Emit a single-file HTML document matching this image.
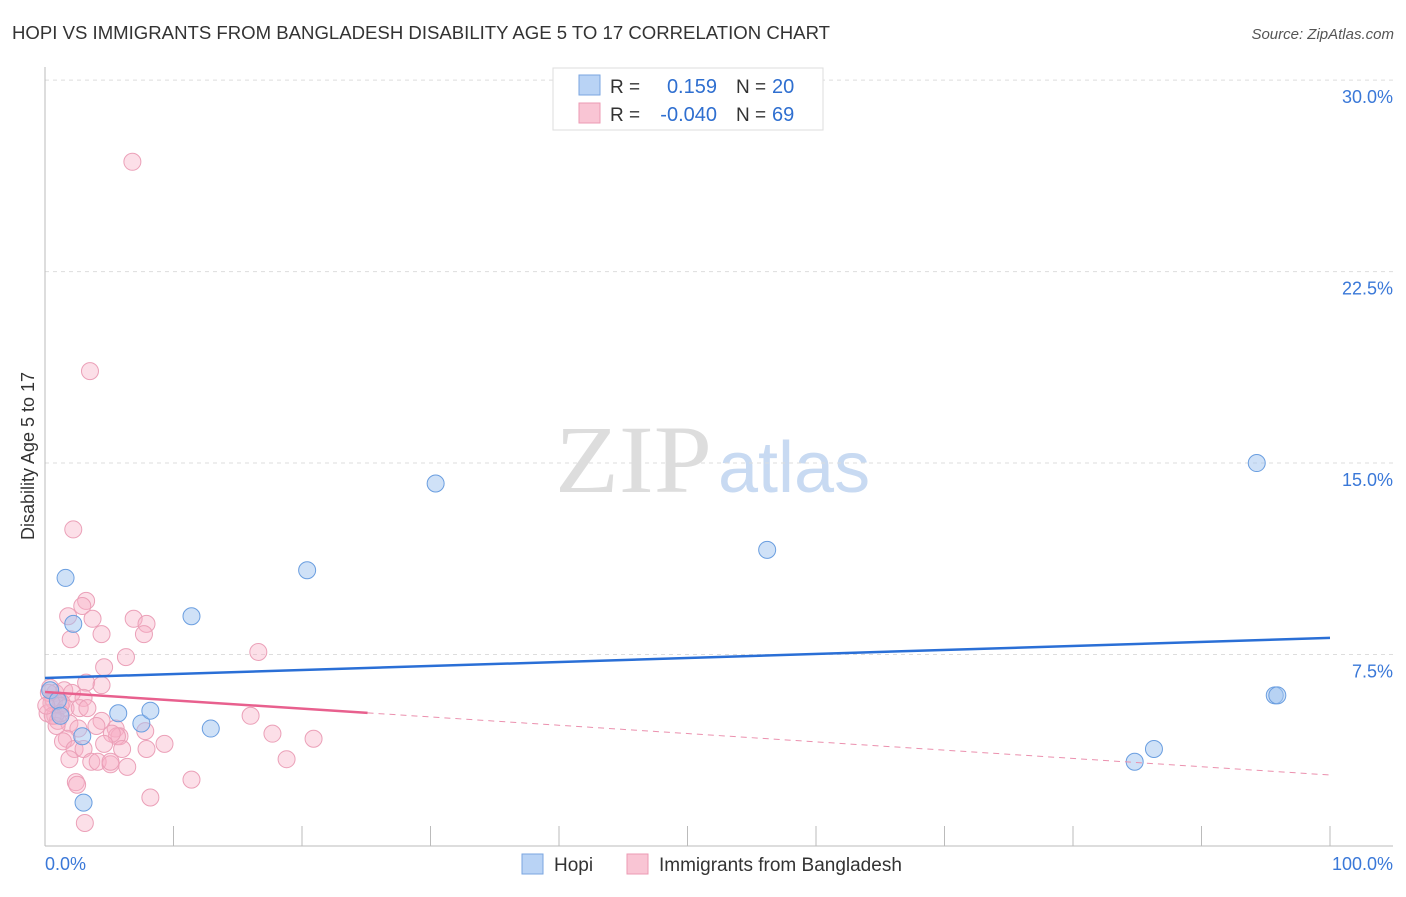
<!DOCTYPE html>
<html><head><meta charset="utf-8"><style>
body{margin:0;background:#fff;font-family:"Liberation Sans",sans-serif}
</style></head><body>
<svg id="c" width="1406" height="892" xmlns="http://www.w3.org/2000/svg" font-family="Liberation Sans, sans-serif">
<text x="12" y="39" font-size="18" fill="#333" textLength="818" lengthAdjust="spacingAndGlyphs">HOPI VS IMMIGRANTS FROM BANGLADESH DISABILITY AGE 5 TO 17 CORRELATION CHART</text>
<text x="1394" y="39" font-size="15" fill="#555" font-style="italic" text-anchor="end">Source: ZipAtlas.com</text>
<text x="34" y="456" font-size="18" fill="#333" text-anchor="middle" transform="rotate(-90 34 456)">Disability Age 5 to 17</text>
<text x="555" y="492" font-size="96" fill="#ddd" font-family="Liberation Serif, serif" textLength="157" lengthAdjust="spacingAndGlyphs">ZIP</text>
<text x="718" y="492" font-size="72" fill="#c8daf2">atlas</text>
<g id="grid"></g><g id="axes"></g><g id="pts"></g><g id="lines"></g>
<g>
<rect x="553" y="68" width="270" height="62" fill="#fff" stroke="#ddd"/>
<rect x="579" y="75" width="21" height="20" fill="#b9d3f5" stroke="#7aa6e0"/>
<rect x="579" y="103" width="21" height="20" fill="#f9c5d4" stroke="#ec9ab3"/>
<text x="610" y="93" font-size="19" fill="#333">R =</text><text x="717" y="93" font-size="20" fill="#2f6fd0" text-anchor="end">0.159</text>
<text x="736" y="93" font-size="19" fill="#333">N =</text><text x="772" y="93" font-size="20" fill="#2f6fd0">20</text>
<text x="610" y="121" font-size="19" fill="#333">R =</text><text x="717" y="121" font-size="20" fill="#2f6fd0" text-anchor="end">-0.040</text>
<text x="736" y="121" font-size="19" fill="#333">N =</text><text x="772" y="121" font-size="20" fill="#2f6fd0">69</text>
</g>
<g>
<rect x="522" y="854" width="21" height="20" fill="#b9d3f5" stroke="#7aa6e0"/><text x="554" y="871" font-size="19" fill="#333">Hopi</text>
<rect x="627" y="854" width="21" height="20" fill="#f9c5d4" stroke="#ec9ab3"/><text x="659" y="871" font-size="19" fill="#333">Immigrants from Bangladesh</text>
</g>
</svg>
<script>
const hopiX=[1.6,2.2,3.0,2.9,5.7,7.5,8.2,11.4,12.9,20.4,30.4,56.2,94.3,95.7,95.9,84.8,86.3,0.4,1.0,1.2];
const hopiY=[10.5,8.7,1.7,4.3,5.2,4.8,5.3,9.0,4.6,10.8,14.2,11.6,15.0,5.9,5.9,3.3,3.8,6.1,5.7,5.1];
const bangX=[6.8,3.5,2.2,3.2,2.9,1.8,3.7,6.9,7.9,2.0,4.4,7.7,6.3,16.6,4.6,3.2,4.4,0.4,0.8,1.5,2.1,3.0,0.7,1.3,0.2,0.8,1.2,0.5,1.6,2.7,3.3,1.0,1.9,0.9,4.4,4.0,2.6,5.5,5.8,7.8,5.6,1.7,1.4,2.3,3.0,6.0,7.9,9.3,16.0,17.7,20.9,18.8,1.9,3.6,4.1,5.1,6.4,2.4,2.5,11.4,8.2,3.1,5.1,5.2,4.6,0.3,0.6,0.1,1.2];
const bangY=[26.8,18.6,12.4,9.6,9.4,9.0,8.9,8.9,8.7,8.1,8.3,8.3,7.4,7.6,7.0,6.4,6.3,6.2,6.0,6.1,6.0,5.8,5.7,5.6,5.2,5.1,5.5,5.6,5.4,5.4,5.4,4.9,4.8,4.7,4.9,4.7,4.6,4.6,4.3,4.5,4.3,4.2,4.1,3.8,3.8,3.8,3.8,4.0,5.1,4.4,4.2,3.4,3.4,3.3,3.3,3.2,3.1,2.5,2.4,2.6,1.9,0.9,3.3,4.4,4.0,6.0,5.1,5.5,5.2];
const yTicks=[7.5,15,22.5,30];
const yTickLabels=["7.5%","15.0%","22.5%","30.0%"];
const hopiTrend=[6.58,8.15];
const bangTrend=[6.03,2.78];
const bangSolidEnd=25.1;
const NS="http://www.w3.org/2000/svg";
const sx=v=>45+v*12.85, sy=v=>846-v*25.53;
function mk(tag,attrs,parent){const e=document.createElementNS(NS,tag);for(const k in attrs)e.setAttribute(k,attrs[k]);document.getElementById(parent).appendChild(e);return e;}
yTicks.forEach((t,i)=>{
 const g=mk('line',{x1:45,x2:1393,y1:sy(t),y2:sy(t),stroke:'#ddd','stroke-dasharray':'4,4'},'grid');
 
 
 const l=mk('text',{x:1393,y:sy(t)+23,'font-size':18,fill:'#3a78d8','text-anchor':'end'},'grid');
 l.textContent=yTickLabels[i];
 
 
});
const ax=mk('line',{x1:45,x2:45,y1:67,y2:846,stroke:'#bbb'},'axes');


const bx=mk('line',{x1:45,x2:1393,y1:846,y2:846,stroke:'#bbb'},'axes');


for(let i=1;i<=10;i++){const t=mk('line',{x1:sx(i*10),x2:sx(i*10),y1:826,y2:846,stroke:'#bbb'},'axes');
 
 }
[[0,'0.0%','start',45],[100,'100.0%','end',1393]].forEach(a=>{const t=mk('text',{x:a[3],y:870,'font-size':18,fill:'#3a78d8','text-anchor':a[2]},'axes');t.textContent=a[1];
 
 });
bangX.forEach((x,i)=>{const c=mk('circle',{cx:sx(x),cy:sy(bangY[i]),r:8.5,fill:'rgba(247,175,198,0.4)',stroke:'#eba0b8','stroke-width':1},'pts');
 
 });
hopiX.forEach((x,i)=>{const c=mk('circle',{cx:sx(x),cy:sy(hopiY[i]),r:8.5,fill:'rgba(160,195,240,0.5)',stroke:'#6a9ee0','stroke-width':1},'pts');
 
 });
const bAt=x=>bangTrend[0]+(bangTrend[1]-bangTrend[0])*x/100;
const l1=mk('line',{x1:sx(0),y1:sy(hopiTrend[0]),x2:sx(100),y2:sy(hopiTrend[1]),stroke:'#2a6fd6','stroke-width':2.5},'lines');


const l2=mk('line',{x1:sx(0),y1:sy(bAt(0)),x2:sx(bangSolidEnd),y2:sy(bAt(bangSolidEnd)),stroke:'#e8608e','stroke-width':2.5},'lines');


const l3=mk('line',{x1:sx(bangSolidEnd),y1:sy(bAt(bangSolidEnd)),x2:sx(100),y2:sy(bAt(100)),stroke:'#eb90ae','stroke-width':1,'stroke-dasharray':'6,5'},'lines');


</script>
</body></html>
